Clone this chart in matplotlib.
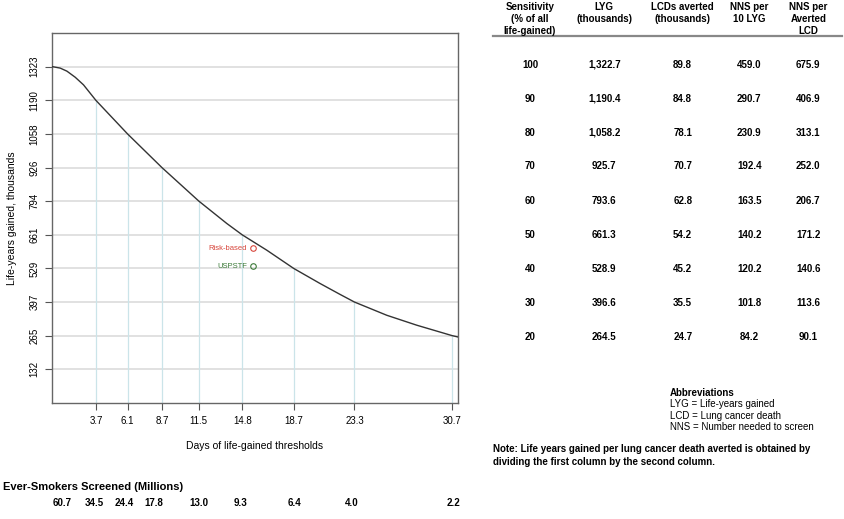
"""
Life-years gained vs. days-of-life-gained thresholds, with summary table.
"""

import matplotlib.pyplot as plt
import matplotlib.transforms as mtransforms

plt.rcParams["font.family"] = ["Liberation Sans", "DejaVu Sans"]

# curve (days threshold, life-years gained in thousands)
curve_days = [0.37, 0.99, 1.5, 2.13, 2.76, 3.7, 6.1, 8.7, 11.5, 13.62, 14.8,
              16.65, 18.7, 20.69, 22.21, 23.3, 25.75, 28.02, 30.7, 31.12]
curve_lyg = [1323, 1317, 1305, 1281, 1251, 1190, 1058, 926, 794, 706, 661,
             601, 529, 470, 427, 397, 345, 306, 265, 260]

threshold_days = [3.7, 6.1, 8.7, 11.5, 14.8, 18.7, 23.3, 30.7]
threshold_lyg = [1190, 1058, 926, 794, 661, 529, 397, 265]

ytick_values = [132.3, 264.5, 396.8, 529.1, 661.3, 793.6, 925.9, 1058.2, 1190.4, 1322.7]
ytick_labels = ["132", "265", "397", "529", "661", "794", "926", "1058", "1190", "1323"]

strategies = ["Risk-based", "USPSTF"]
strategy_days = [15.6, 15.6]
strategy_lyg = [608, 538]
strategy_colors = ["#d8463c", "#3c7a38"]

screened = ["60.7", "34.5", "24.4", "17.8", "13.0", "9.3", "6.4", "4.0", "2.2"]
screened_x = [1.12, 3.55, 5.88, 8.09, 11.47, 14.63, 18.72, 23.12, 30.79]

table_header = ["Sensitivity\n(% of all\nlife-gained)", "LYG\n(thousands)",
                "LCDs averted\n(thousands)", "NNS per\n10 LYG", "NNS per\nAverted\nLCD"]
sensitivity = ["100", "90", "80", "70", "60", "50", "40", "30", "20"]
lyg = ["1,322.7", "1,190.4", "1,058.2", "925.7", "793.6", "661.3", "528.9", "396.6", "264.5"]
lcd_averted = ["89.8", "84.8", "78.1", "70.7", "62.8", "54.2", "45.2", "35.5", "24.7"]
nns_lyg = ["459.0", "290.7", "230.9", "192.4", "163.5", "140.2", "120.2", "101.8", "84.2"]
nns_lcd = ["675.9", "406.9", "313.1", "252.0", "206.7", "171.2", "140.6", "113.6", "90.1"]

abbreviations = ["LYG = Life-years gained", "LCD = Lung cancer death",
                 "NNS = Number needed to screen"]

W, H = 845, 519
fig = plt.figure(figsize=(W / 100, H / 100), dpi=100)


def fx(px):
    return px / W


def fy(py):
    return 1 - py / H


ax = fig.add_axes([fx(52), fy(403), fx(458) - fx(52), fy(33) - fy(403)])
ax.set_xlim(0.37, 31.15)
ax.set_ylim(0, 1455)

for v in ytick_values:
    ax.axhline(v, color="#d9d9d9", lw=1.1, zorder=1)
ax.vlines(threshold_days, 0, threshold_lyg, color="#cbe4e9", lw=0.9, zorder=2)
ax.plot(curve_days, curve_lyg, color="#333333", lw=1, zorder=3)

for name, d, v, c in zip(strategies, strategy_days, strategy_lyg, strategy_colors):
    ax.plot(d, v, marker="o", ms=4, mfc="none", mec=c, mew=0.8, zorder=4)
    ax.annotate(name, (d, v), xytext=(-4, 0), textcoords="offset points",
                ha="right", va="center", color=c, fontsize=5.5)

ax.set_xticks(threshold_days)
ax.set_xticklabels([str(d) for d in threshold_days], fontsize=7)
ax.set_yticks(ytick_values)
ax.set_yticklabels(ytick_labels, fontsize=7, rotation=90, va="center")
ax.tick_params(length=5, width=0.8, color="#555555", pad=4)
for s in ax.spines.values():
    s.set_color("#666666")
    s.set_linewidth(1)

fig.text(fx(255), fy(446), "Days of life-gained thresholds", ha="center",
         va="center", fontsize=7.5)
fig.text(fx(12), fy(218), "Life-years gained, thousands", ha="center",
         va="center", rotation=90, fontsize=7.5)

# ever-smokers screened under the axis
fig.text(fx(3), fy(486.7), "Ever-Smokers Screened (Millions)", ha="left",
         va="center", fontsize=8, fontweight="bold")
blend = mtransforms.blended_transform_factory(ax.transData, fig.transFigure)
for x, s in zip(screened_x, screened):
    fig.text(x, fy(502.7), s, transform=blend, ha="center", va="center",
             fontsize=7, fontweight="bold")

# table on the right
col_x = [530, 604.3, 682.7, 749.3, 808.3]
for x, h in zip(col_x, table_header):
    fig.text(fx(x), fy(2.5), h, ha="center", va="top", fontsize=7,
             fontweight="bold", linespacing=1.2, multialignment="center")
fig.add_artist(plt.Line2D([fx(492.7), fx(841.7)], [fy(35.7), fy(35.7)],
                          color="#888888", lw=1.6))

columns = [sensitivity, lyg, lcd_averted, nns_lyg, nns_lcd]
for i in range(len(sensitivity)):
    y = 64.5 + 34.0 * i
    for x, col in zip(col_x, columns):
        fig.text(fx(x), fy(y), col[i], ha="center", va="center",
                 fontsize=7, fontweight="bold")

fig.text(fx(670), fy(392.7), "Abbreviations", ha="left", va="center",
         fontsize=7, fontweight="bold")
for i, line in enumerate(abbreviations):
    fig.text(fx(670), fy(404.3 + 11.5 * i), line, ha="left", va="center",
             fontsize=7)

fig.text(fx(492.7), fy(449.3),
         "Note: Life years gained per lung cancer death averted is obtained by",
         ha="left", va="center", fontsize=7, fontweight="bold")
fig.text(fx(492.7), fy(461.7), "dividing the first column by the second column.",
         ha="left", va="center", fontsize=7, fontweight="bold")

fig.savefig("out.png", dpi=100)
